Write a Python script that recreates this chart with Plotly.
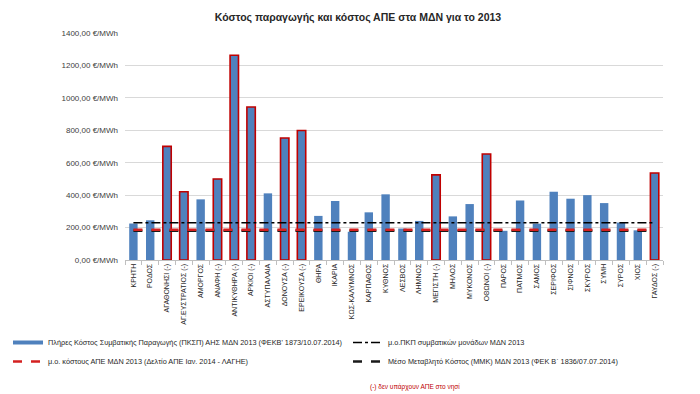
import plotly.graph_objects as go

islands = ["ΚΡΗΤΗ", "ΡΟΔΟΣ", "ΑΓΑΘΟΝΗΣΙ (-)", "ΑΓ.ΕΥΣΤΡΑΤΙΟΣ (-)", "ΑΜΟΡΓΟΣ", "ΑΝΑΦΗ (-)",
           "ΑΝΤΙΚΥΘΗΡΑ (-)", "ΑΡΚΙΟΙ (-)", "ΑΣΤΥΠΑΛΑΙΑ", "ΔΟΝΟΥΣΑ (-)", "ΕΡΕΙΚΟΥΣΑ (-)", "ΘΗΡΑ",
           "ΙΚΑΡΙΑ", "ΚΩΣ-ΚΑΛΥΜΝΟΣ", "ΚΑΡΠΑΘΟΣ", "ΚΥΘΝΟΣ", "ΛΕΣΒΟΣ", "ΛΗΜΝΟΣ", "ΜΕΓΙΣΤΗ (-)",
           "ΜΗΛΟΣ", "ΜΥΚΟΝΟΣ", "ΟΘΩΝΟΙ (-)", "ΠΑΡΟΣ", "ΠΑΤΜΟΣ", "ΣΑΜΟΣ", "ΣΕΡΙΦΟΣ", "ΣΙΦΝΟΣ",
           "ΣΚΥΡΟΣ", "ΣΥΜΗ", "ΣΥΡΟΣ", "ΧΙΟΣ", "ΓΑΥΔΟΣ (-)"]
pkcp = [225, 245, 701, 421, 374, 500, 1263, 944, 411, 752, 799, 272,
        364, 174, 294, 405, 194, 241, 525, 269, 345, 654, 180, 367,
        224, 421, 378, 400, 351, 231, 183, 537]
no_res = [name.endswith("(-)") for name in islands]

avg_pkp = 230   # μ.ο. ΠΚΠ συμβατικών μονάδων
avg_res = 186   # μ.ο. κόστους ΑΠΕ
mmk = 180       # Μέσο Μεταβλητό Κόστος

y_ticks = [0, 200, 400, 600, 800, 1000, 1200, 1400]
y_tick_text = [f"{v},00 €/MWh" for v in y_ticks]

legend_names = [
    "Πλήρες Κόστος Συμβατικής Παραγωγής (ΠΚΣΠ) ΑΗΣ ΜΔΝ 2013 (ΦΕΚΒ' 1873/10.07.2014)",
    "μ.ο.ΠΚΠ συμβατικών μονάδων ΜΔΝ 2013",
    "μ.ο. κόστους ΑΠΕ ΜΔΝ 2013 (Δελτίο ΑΠΕ Ιαν. 2014 - ΛΑΓΗΕ)",
    "Μέσο Μεταβλητό Κόστος (ΜΜΚ) ΜΔΝ 2013 (ΦΕΚ Β΄ 1836/07.07.2014)",
]
title = "Κόστος παραγωγής και κόστος ΑΠΕ στα ΜΔΝ για το 2013"
note = "(-) δεν υπάρχουν ΑΠΕ στο νησί"

FONT = "Liberation Sans, Arial, sans-serif"
BLUE = "#4F81BD"
RED = "#C00000"
LINE_RED = "#D42020"

fig = go.Figure()
fig.add_trace(go.Bar(
    x=islands, y=pkcp, name=legend_names[0], showlegend=False,
    marker=dict(color=BLUE,
                line=dict(color=[RED if f else BLUE for f in no_res],
                          width=[1.6 if f else 0 for f in no_res])),
    width=0.5,
))
fig.add_trace(go.Scatter(x=islands, y=[avg_pkp] * len(islands), mode="lines",
                         name=legend_names[1], legend="legend2",
                         line=dict(color="black", width=1.5, dash="dashdot")))
fig.add_trace(go.Scatter(x=islands, y=[mmk] * len(islands), mode="lines",
                         name=legend_names[3], legend="legend2",
                         line=dict(color="#1a1a1a", width=2.5, dash="dash")))
fig.add_trace(go.Scatter(x=islands, y=[avg_res] * len(islands), mode="lines",
                         name=legend_names[2], showlegend=False,
                         line=dict(color=LINE_RED, width=2.5, dash="dash")))
# legend entries for the left column (no visible data of their own)
fig.add_trace(go.Scatter(x=[islands[0]], y=[None], mode="lines", name=legend_names[0],
                         legend="legend", line=dict(color=BLUE, width=4)))
fig.add_trace(go.Scatter(x=[islands[0]], y=[None], mode="lines", name=legend_names[2],
                         legend="legend", line=dict(color=LINE_RED, width=2.5, dash="dash")))

leg_common = dict(orientation="v", xref="container", yref="container",
                  xanchor="left", yanchor="top",
                  font=dict(size=7.3, color="#262626", family=FONT),
                  itemwidth=30, tracegroupgap=0, traceorder="normal",
                  bgcolor="rgba(0,0,0,0)")

fig.update_layout(
    width=700, height=394,
    paper_bgcolor="white", plot_bgcolor="white",
    margin=dict(l=117, r=45, t=25, b=142, autoexpand=False),
    font=dict(family=FONT, color="#404040", size=8),
    title=dict(text=f"<b>{title}</b>", x=0.5, xanchor="center", y=0.985, yanchor="top",
               font=dict(size=10.5, color="#262626", family=FONT)),
    showlegend=True,
    legend=dict(x=0.0, y=1 - 320 / 394, **leg_common),
    legend2=dict(x=340 / 700, y=1 - 320 / 394, **leg_common),
    bargap=0.5,
)
fig.update_yaxes(range=[0, 1400], tickvals=y_ticks, ticktext=y_tick_text,
                 showgrid=True, gridcolor="#D9D9D9", gridwidth=1,
                 zeroline=False, showline=False, ticks="",
                 tickfont=dict(size=8, color="#404040", family=FONT), ticklabelstandoff=6)
fig.update_xaxes(type="category", categoryorder="array", categoryarray=islands,
                 tickangle=-90, showline=True, linecolor="#BFBFBF",
                 ticks="outside", tickson="boundaries", ticklen=4, tickcolor="#BFBFBF",
                 tickfont=dict(size=7, color="#262626", family=FONT),
                 range=[-0.5, len(islands) - 0.5])

fig.add_annotation(text=note, xref="paper", yref="paper", x=(360 - 117) / 538,
                   y=(252 - 379) / 227, xanchor="left", yanchor="middle", showarrow=False,
                   font=dict(size=6.5, color="#C00000", family=FONT))

fig.write_html("out.html")
